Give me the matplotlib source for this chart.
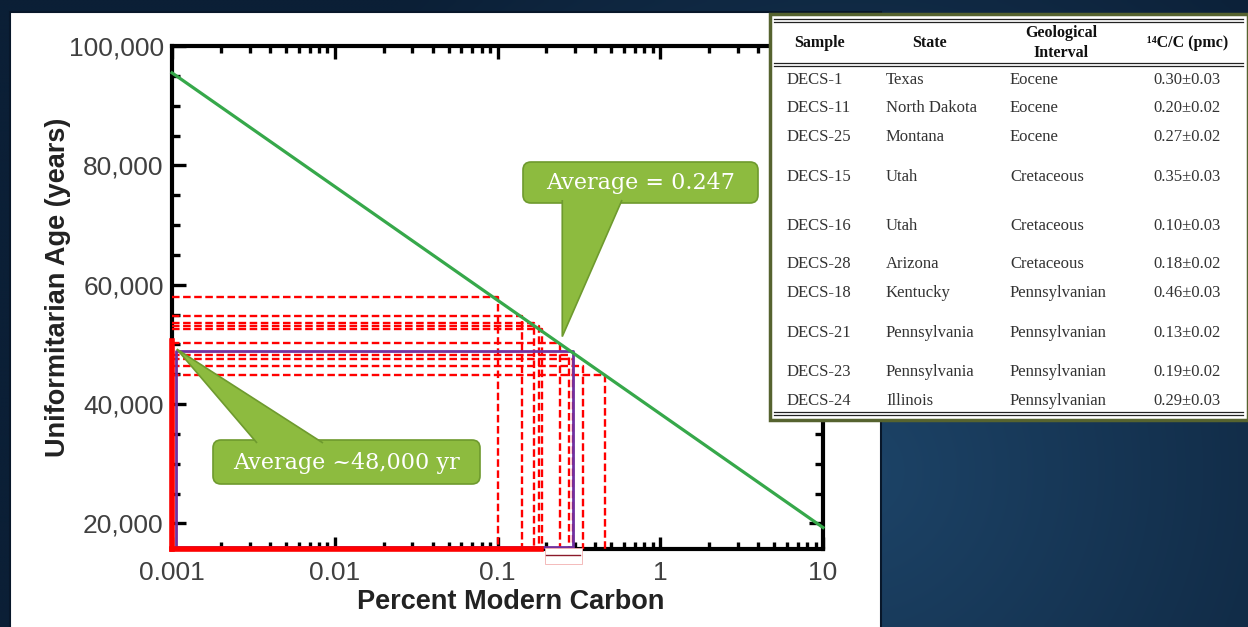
"""
14C 與均變論年齡的關係圖 + DECS 煤樣本表格(投影片重繪)

輸出: out.png (1248x627)
"""
import numpy as np
import matplotlib.pyplot as plt
from matplotlib.patches import Rectangle, FancyBboxPatch, Polygon
from matplotlib.ticker import FixedLocator, MultipleLocator, LogLocator, NullFormatter, FuncFormatter

W, H = 1248, 627
DPI = 100

# ============================================================
#  資料
# ============================================================
# 表格
samples = ['DECS-1', 'DECS-11', 'DECS-25', 'DECS-15', 'DECS-16',
           'DECS-28', 'DECS-18', 'DECS-21', 'DECS-23', 'DECS-24']
states = ['Texas', 'North Dakota', 'Montana', 'Utah', 'Utah',
          'Arizona', 'Kentucky', 'Pennsylvania', 'Pennsylvania', 'Illinois']
intervals = ['Eocene', 'Eocene', 'Eocene', 'Cretaceous', 'Cretaceous',
             'Cretaceous', 'Pennsylvanian', 'Pennsylvanian', 'Pennsylvanian', 'Pennsylvanian']
pmc_values = [0.30, 0.20, 0.27, 0.35, 0.10, 0.18, 0.46, 0.13, 0.19, 0.29]
pmc_errors = [0.03, 0.02, 0.02, 0.03, 0.03, 0.02, 0.03, 0.02, 0.02, 0.03]
table_headers = ['Sample', 'State', 'Geological\nInterval', '\u00b9\u2074C/C (pmc)']

# 圖上的線(從圖上讀出來的)
x_ticks = [0.001, 0.01, 0.1, 1, 10]
x_tick_labels = ['0.001', '0.01', '0.1', '1', '10']
y_ticks = [20000, 40000, 60000, 80000, 100000]

curve_pmc = [0.001, 10]
curve_age = [95500, 19300]

dash_pmc = [0.10, 0.141, 0.167, 0.179, 0.188, 0.243, 0.275, 0.29, 0.333, 0.46]
dash_age = [58000, 54700, 53500, 53000, 52500, 50200, 48200, 47500, 46300, 44800]

avg_pmc = 0.29      # 紫框右邊(畫出來的位置)
avg_age = 48900     # 紫框上邊
red_end_pmc = 0.185
red_top_age = 50500

avg_pmc_label = 'Average = 0.247'
avg_age_label = 'Average ~48,000 yr'
tip1 = (0.25, 51300)      # 上方對話框尖端
tip2 = (0.00107, 49200)   # 下方對話框尖端

# 表格列的 y 位置(像素,原表格排版)
ROW_Y = [80, 108, 137, 177, 226, 264, 293, 333, 372, 401]
COL_X = [787, 886, 1010, 1187]

XMIN, XMAX = 0.001, 10
YMIN, YMAX = 15700, 100000


# ============================================================
#  背景
# ============================================================
def draw_background(fig):
    bg = fig.add_axes([0, 0, 1, 1], zorder=0)
    bg.set_xlim(0, W)
    bg.set_ylim(H, 0)
    bg.axis('off')

    yy, xx = np.mgrid[0:H:4, 0:W:4]
    d = np.clip(np.hypot(xx - 850, yy - 470) / 650, 0, 1)
    light = np.array([0x1d, 0x44, 0x68]) / 255
    dark = np.array([0x0b, 0x1f, 0x36]) / 255
    img = light[None, None, :] * (1 - d[..., None]) + dark[None, None, :] * d[..., None]
    bg.imshow(img, extent=[0, W, H, 0], aspect='auto', interpolation='bilinear')

    # 白色底板
    bg.add_patch(Rectangle((10, 12), 871, 630, facecolor='white',
                           edgecolor='#08172a', linewidth=1.5))
    return bg


# ============================================================
#  主圖
# ============================================================
def draw_chart(fig):
    ax = fig.add_axes([172 / W, 1 - 549 / H, 651 / W, 503 / H], zorder=1)
    ax.set_facecolor('none')
    ax.set_xscale('log')
    ax.set_xlim(XMIN, XMAX)
    ax.set_ylim(YMIN, YMAX)

    # 紅色虛線:每個樣本從 y 軸到曲線再到 x 軸
    for p, a in zip(dash_pmc, dash_age):
        ax.plot([XMIN, p, p], [a, a, YMIN], color='red', lw=1.7,
                ls=(0, (3.2, 1.5)), zorder=3)

    # 紅色粗線(左邊 + 下邊)
    ax.plot([XMIN, XMIN], [YMIN, red_top_age], color='red', lw=4, clip_on=False, zorder=5)
    ax.plot([XMIN, red_end_pmc], [YMIN, YMIN], color='red', lw=4, clip_on=False, zorder=5)

    # 紫色平均框
    x_in = XMIN * 1.06
    y_in = YMIN + 350
    ax.plot([x_in, x_in, avg_pmc, avg_pmc, x_in], [y_in, avg_age, avg_age, y_in, y_in],
            color='#7030a0', lw=2, zorder=4, clip_on=False)

    # 綠色曲線
    ax.plot(curve_pmc, curve_age, color='#36a84a', lw=2.3, zorder=6, clip_on=False)

    # 軸下方的小白框(原投影片殘留)
    ax.add_patch(Rectangle((0.195, -0.03), 0.135, 0.032, transform=ax.get_xaxis_transform(),
                           facecolor='white', edgecolor='#f3b0b0', lw=0.6,
                           clip_on=False, zorder=7))
    ax.plot([0.2, 0.32], [-0.011, -0.011], transform=ax.get_xaxis_transform(),
            color='#8b1a2a', lw=1, clip_on=False, zorder=8)

    # 刻度
    ax.xaxis.set_major_locator(FixedLocator(x_ticks))
    ax.set_xticklabels(x_tick_labels)
    ax.xaxis.set_minor_locator(LogLocator(base=10, subs=np.arange(2, 10)))
    ax.xaxis.set_minor_formatter(NullFormatter())
    ax.yaxis.set_major_locator(FixedLocator(y_ticks))
    ax.yaxis.set_minor_locator(MultipleLocator(5000))
    ax.yaxis.set_major_formatter(FuncFormatter(lambda v, _: f'{int(v):,}'))

    ax.tick_params(which='both', direction='in', top=True, right=True,
                   width=2.4, color='black', labelcolor='#404040', labelsize=19)
    ax.tick_params(axis='y', which='major', length=10, pad=6)
    ax.tick_params(axis='y', which='minor', length=6)
    ax.tick_params(axis='x', which='major', length=9, pad=9)
    ax.tick_params(axis='x', which='minor', length=5)
    for lab in ax.get_xticklabels() + ax.get_yticklabels():
        lab.set_family('Liberation Sans')

    for s in ax.spines.values():
        s.set_linewidth(3)
        s.set_color('black')

    ax.set_xlabel('Percent Modern Carbon', family='Liberation Sans', fontweight='bold',
                  fontsize=19.5, color='#222222')
    ax.set_ylabel('Uniformitarian Age (years)', family='Liberation Sans', fontweight='bold',
                  fontsize=19.5, color='#222222')
    ax.xaxis.set_label_coords(0.52, -0.08)
    ax.yaxis.set_label_coords(-0.155, 0.521)
    return ax


# ============================================================
#  對話框
# ============================================================
def to_px(ax, pt):
    xd, yd = ax.transData.transform(pt)
    return xd, H - yd


def callout(ov, box, base, tip, text):
    x, y, w, h = box
    green, edge = '#8dbb3f', '#6e9a2e'
    ov.add_patch(FancyBboxPatch((x, y), w, h, boxstyle='round,pad=0,rounding_size=8',
                                facecolor=green, edgecolor=edge, lw=1.2))
    # 三角形:底邊不描邊,跟框接在一起
    ov.add_patch(Polygon([base[0], tip, base[1]], closed=False,
                         facecolor=green, edgecolor=edge, lw=1.2))
    ov.text(x + w / 2, y + h / 2 + 1, text, ha='center', va='center', color='white',
            family='DejaVu Serif', fontsize=16)


def draw_callouts(fig, ax):
    ov = fig.add_axes([0, 0, 1, 1], zorder=4)
    ov.set_xlim(0, W)
    ov.set_ylim(H, 0)
    ov.axis('off')

    t1 = to_px(ax, tip1)
    callout(ov, (523, 162, 235, 41), [(t1[0], 200), (622, 200)], t1, avg_pmc_label)
    t2 = to_px(ax, tip2)
    callout(ov, (213, 440, 267, 44), [(257, 443), (323, 443)], t2, avg_age_label)


# ============================================================
#  表格
# ============================================================
def draw_table(fig):
    tb = fig.add_axes([770 / W, 1 - 420 / H, (W - 770) / W, 406 / H], zorder=5)
    tb.set_xlim(770, W)
    tb.set_ylim(420, 14)
    tb.axis('off')
    tb.add_patch(Rectangle((770, 14), W - 770, 406, facecolor='white',
                           edgecolor='#56632f', lw=2.5, clip_on=False))

    # 三條雙線
    for y0 in [19, 63, 412]:
        for dy in [0, 2.6]:
            tb.plot([774, 1243], [y0 + dy, y0 + dy], color='#222222', lw=0.9)

    serif = ['Liberation Serif', 'DejaVu Serif']
    head_x = [820, 930, 1061, 1188]
    for hx, txt in zip(head_x, table_headers):
        tb.text(hx, 43, txt, ha='center', va='center', family=serif, fontweight='bold',
                fontsize=11.5, color='#111111', linespacing=1.35)

    for i, y in enumerate(ROW_Y):
        tb.text(COL_X[0], y, samples[i], ha='left', va='center', family=serif,
                fontsize=12, color='#333333')
        tb.text(COL_X[1], y, states[i], ha='left', va='center', family=serif,
                fontsize=12, color='#333333')
        tb.text(COL_X[2], y, intervals[i], ha='left', va='center', family=serif,
                fontsize=12, color='#333333')
        tb.text(COL_X[3], y, f'{pmc_values[i]:.2f}\u00b1{pmc_errors[i]:.2f}', ha='center',
                va='center', family=serif, fontsize=12, color='#333333')
    return tb


if __name__ == '__main__':
    fig = plt.figure(figsize=(W / DPI, H / DPI), dpi=DPI)
    draw_background(fig)
    ax = draw_chart(fig)
    draw_callouts(fig, ax)
    draw_table(fig)
    fig.savefig('out.png', dpi=DPI)
